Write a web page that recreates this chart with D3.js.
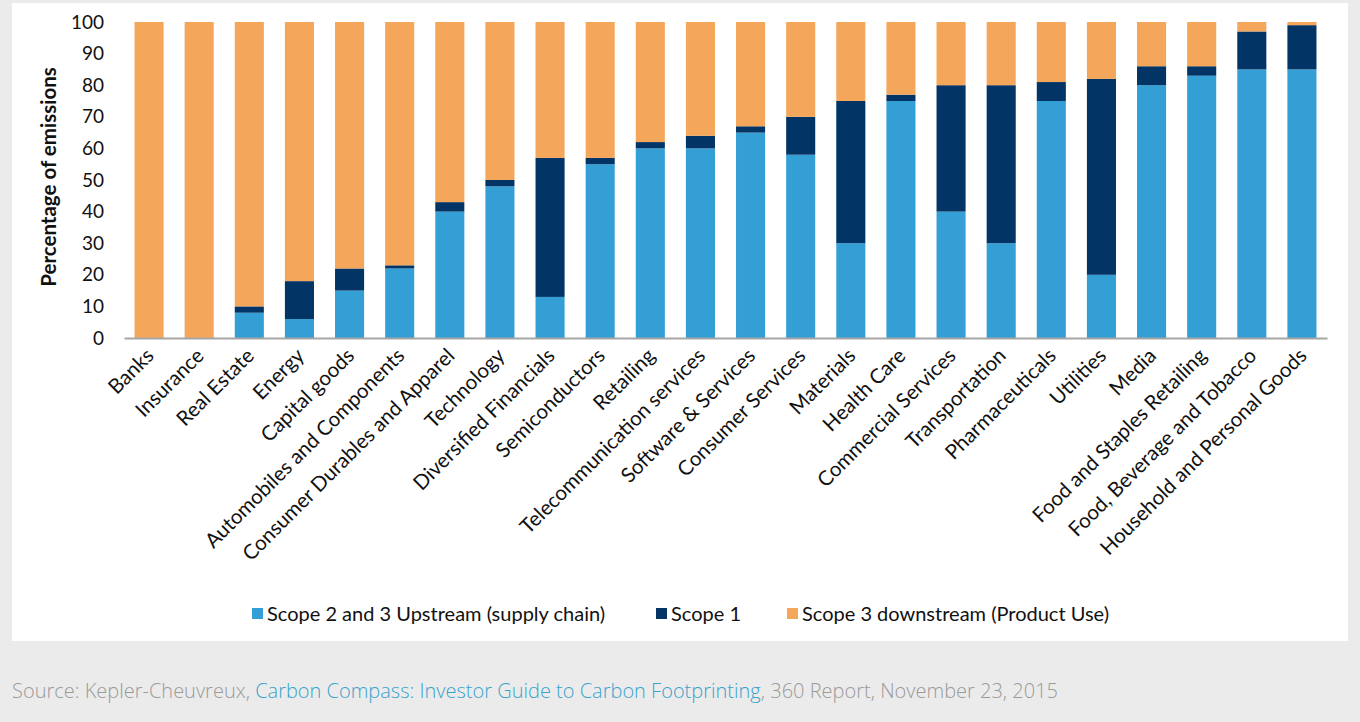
<!DOCTYPE html>
<html>
<head>
<meta charset="utf-8">
<script src="https://cdn.jsdelivr.net/npm/d3@7"></script>
<style>
  body { margin: 0; background: #ebebeb; }
  svg { display: block; }
</style>
</head>
<body>
<svg id="chart" width="1360" height="722"></svg>
<script>
// categories and stacked values (percent of emissions)
var sectors = ['Banks', 'Insurance', 'Real Estate', 'Energy', 'Capital goods',
    'Automobiles and Components', 'Consumer Durables and Apparel', 'Technology',
    'Diversified Financials', 'Semiconductors', 'Retailing', 'Telecommunication services',
    'Software & Services', 'Consumer Services', 'Materials', 'Health Care',
    'Commercial Services', 'Transportation', 'Pharmaceuticals', 'Utilities', 'Media',
    'Food and Staples Retailing', 'Food, Beverage and Tobacco', 'Household and Personal Goods'];
var upstream = [0, 0, 8, 6, 15, 22, 40, 48, 13, 55, 60, 60, 65, 58, 30, 75, 40, 30, 75, 20, 80, 83, 85, 85];
var scope1   = [0, 0, 2, 12, 7, 1, 3, 2, 44, 2, 2, 4, 2, 12, 45, 2, 40, 50, 6, 62, 6, 3, 12, 14];
var downstream = [100, 100, 90, 82, 78, 77, 57, 50, 43, 43, 38, 36, 33, 30, 25, 23, 20, 20, 19, 18, 14, 14, 3, 1];
var seriesNames = ['Scope 2 and 3 Upstream (supply chain)', 'Scope 1', 'Scope 3 downstream (Product Use)'];
var yTicks = [0, 10, 20, 30, 40, 50, 60, 70, 80, 90, 100];

var colors = ['#339fd5', '#023466', '#f4a65a'];

window.onload = function(){
    drawChart();
};

function drawChart(){
    let svg = d3.select("#chart");

    // white panel
    svg.append("rect").attr("x", 12).attr("y", 3).attr("width", 1336).attr("height", 638).attr("fill", "#fff");

    let rows = sectors.map(function(s, i){
        return {sector: s, up: upstream[i], s1: scope1[i], down: downstream[i]};
    });
    let stack = d3.stack().keys(['up', 's1', 'down'])(rows);

    let xScale = d3.scaleBand().domain(sectors).range([124, 1327])
        .paddingInner(0.42).paddingOuter(0.21);
    let yScale = d3.scaleLinear().domain([0, 100]).range([338, 22]);

    stack.forEach(function(layer, k){
        svg.append("g").attr("fill", colors[k])
            .selectAll("rect").data(layer).enter()
            .append("rect")
            .attr("x", function(d){ return xScale(d.data.sector); })
            .attr("y", function(d){ return yScale(d[1]); })
            .attr("width", xScale.bandwidth())
            .attr("height", function(d){ return yScale(d[0]) - yScale(d[1]); });
    });

    // y axis: labels only
    let yAxis = d3.axisLeft(yScale).tickValues(yTicks).tickSize(0).tickPadding(0);
    let gy = svg.append("g").attr("transform", "translate(104,0)").call(yAxis);
    gy.select(".domain").remove();
    gy.selectAll("text").attr("font-family", "Lato").attr("font-size", 19).attr("fill", "#111");

    // x axis
    let xAxis = d3.axisBottom(xScale).tickSize(0).tickPadding(0);
    let gx = svg.append("g").attr("transform", "translate(0,338)").call(xAxis);
    gx.select(".domain").attr("stroke", "#a6a6a6").attr("stroke-width", 2);
    gx.selectAll("text")
        .attr("font-family", "Lato").attr("font-size", 20.5).attr("fill", "#111")
        .attr("text-anchor", "end")
        .attr("dy", null).attr("y", 0)
        .attr("transform", "translate(6,19) rotate(-45)");

    // y title
    svg.append("text")
        .attr("transform", "translate(56,177) rotate(-90)")
        .attr("text-anchor", "middle")
        .attr("font-family", "Lato").attr("font-weight", "bold").attr("font-size", 20.5)
        .attr("fill", "#111")
        .text("Percentage of emissions");

    // legend
    let legX = [252, 656, 787];
    let leg = svg.append("g");
    seriesNames.forEach(function(name, k){
        leg.append("rect").attr("x", legX[k]).attr("y", 608).attr("width", 11).attr("height", 11).attr("fill", colors[k]);
        leg.append("text").attr("x", legX[k] + 15).attr("y", 621)
            .attr("font-family", "Lato").attr("font-size", 20).attr("fill", "#111")
            .text(name);
    });

    // source line
    let src = svg.append("text").attr("x", 12).attr("y", 698)
        .attr("font-family", "Open Sans").attr("font-weight", 300).attr("font-size", 20).attr("fill", "#9a9a9a");
    src.append("tspan").text("Source: Kepler-Cheuvreux, ");
    src.append("tspan").attr("fill", "#3aa3cc").text("Carbon Compass: Investor Guide to Carbon Footprinting");
    src.append("tspan").text(", 360 Report, November 23, 2015");
}
</script>
</body>
</html>
